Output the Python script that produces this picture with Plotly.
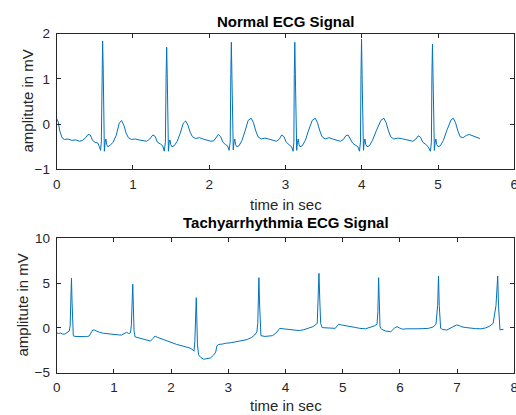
import plotly.graph_objects as go

# ---------------- data ----------------
normal_t = [0.00, 0.02, 0.04, 0.07, 0.10, 0.15, 0.20, 0.25, 0.30, 0.34, 0.38, 0.41, 0.44, 0.47, 0.50, 0.54,
            0.56, 0.575, 0.585, 0.595, 0.602, 0.610, 0.618, 0.625, 0.635, 0.645, 0.655, 0.67, 0.70, 0.74,
            0.78, 0.82, 0.85, 0.88, 0.91, 0.94, 0.98, 1.03, 1.08, 1.13, 1.18, 1.22, 1.26, 1.29, 1.32, 1.36,
            1.39, 1.41, 1.425, 1.435, 1.442, 1.450, 1.458, 1.465, 1.475, 1.485, 1.495, 1.51, 1.54, 1.58,
            1.62, 1.66, 1.69, 1.72, 1.75, 1.78, 1.82, 1.87, 1.92, 1.97, 2.02, 2.06, 2.09, 2.12, 2.15, 2.18,
            2.21, 2.24, 2.26, 2.275, 2.283, 2.290, 2.298, 2.306, 2.315, 2.325, 2.335, 2.345, 2.36, 2.39,
            2.43, 2.47, 2.51, 2.55, 2.58, 2.61, 2.64, 2.68, 2.73, 2.78, 2.83, 2.88, 2.92, 2.95, 2.98, 3.01,
            3.05, 3.08, 3.10, 3.11, 3.115, 3.122, 3.130, 3.138, 3.147, 3.157, 3.167, 3.177, 3.19, 3.22,
            3.26, 3.30, 3.35, 3.39, 3.42, 3.45, 3.48, 3.52, 3.57, 3.62, 3.67, 3.72, 3.76, 3.79, 3.82, 3.85,
            3.88, 3.92, 3.95, 3.97, 3.983, 3.990, 3.997, 4.005, 4.013, 4.022, 4.032, 4.042, 4.052, 4.07,
            4.10, 4.14, 4.19, 4.25, 4.29, 4.32, 4.35, 4.38, 4.42, 4.47, 4.52, 4.57, 4.62, 4.67, 4.71, 4.74,
            4.77, 4.80, 4.84, 4.87, 4.90, 4.913, 4.920, 4.927, 4.935, 4.943, 4.952, 4.962, 4.972, 4.982,
            5.00, 5.03, 5.07, 5.12, 5.17, 5.20, 5.23, 5.26, 5.29, 5.33, 5.37, 5.41, 5.45, 5.50, 5.55]
normal_mv = [0.12, 0.05, -0.15, -0.30, -0.34, -0.33, -0.36, -0.35, -0.38, -0.36, -0.30, -0.23, -0.24, -0.36,
             -0.40, -0.42, -0.50, -0.58, -0.40, 1.20, 1.84, 1.20, -0.30, -0.60, -0.40, -0.33, -0.45, -0.50,
             -0.47, -0.40, -0.25, 0.02, 0.08, -0.02, -0.20, -0.30, -0.34, -0.33, -0.35, -0.36, -0.38, -0.33,
             -0.24, -0.27, -0.40, -0.44, -0.48, -0.60, -0.40, 1.10, 1.70, 1.00, -0.30, -0.60, -0.40, -0.35,
             -0.45, -0.50, -0.48, -0.38, -0.20, 0.02, 0.07, -0.02, -0.18, -0.28, -0.32, -0.30, -0.33, -0.36,
             -0.38, -0.37, -0.30, -0.23, -0.28, -0.40, -0.45, -0.48, -0.58, -0.40, 1.10, 1.81, 1.00, -0.30,
             -0.57, -0.40, -0.33, -0.45, -0.50, -0.48, -0.36, -0.15, 0.08, 0.13, 0.03, -0.15, -0.28, -0.33,
             -0.31, -0.33, -0.36, -0.38, -0.33, -0.24, -0.28, -0.40, -0.46, -0.50, -0.60, -0.40, 1.10, 1.81,
             1.00, -0.30, -0.58, -0.40, -0.33, -0.45, -0.50, -0.48, -0.36, -0.15, 0.08, 0.13, 0.03, -0.15,
             -0.28, -0.33, -0.30, -0.33, -0.36, -0.38, -0.34, -0.26, -0.24, -0.32, -0.42, -0.47, -0.50, -0.60,
             -0.40, 1.10, 1.88, 1.00, -0.30, -0.58, -0.40, -0.33, -0.45, -0.50, -0.48, -0.36, -0.15, 0.08,
             0.13, 0.03, -0.15, -0.28, -0.33, -0.31, -0.32, -0.34, -0.36, -0.38, -0.33, -0.26, -0.29, -0.40,
             -0.45, -0.50, -0.60, -0.40, 1.10, 1.77, 1.00, -0.30, -0.58, -0.40, -0.33, -0.45, -0.50, -0.48,
             -0.36, -0.12, 0.09, 0.13, 0.03, -0.15, -0.28, -0.30, -0.25, -0.23, -0.26, -0.30, -0.32]

tachy_t = [0.00, 0.03, 0.07, 0.10, 0.14, 0.17, 0.20, 0.22, 0.235, 0.245, 0.258, 0.268, 0.278, 0.29, 0.32,
           0.38, 0.45, 0.52, 0.57, 0.60, 0.63, 0.66, 0.70, 0.75, 0.82, 0.90, 1.00, 1.08, 1.13, 1.18, 1.22,
           1.26, 1.29, 1.305, 1.318, 1.330, 1.340, 1.352, 1.37, 1.42, 1.49, 1.56, 1.64, 1.68, 1.72, 1.76,
           1.84, 1.93, 2.02, 2.10, 2.19, 2.27, 2.33, 2.38, 2.40, 2.415, 2.428, 2.440, 2.450, 2.46, 2.48,
           2.52, 2.57, 2.62, 2.69, 2.74, 2.78, 2.80, 2.83, 2.90, 2.95, 3.05, 3.15, 3.24, 3.33, 3.41, 3.46,
           3.50, 3.515, 3.525, 3.535, 3.545, 3.555, 3.57, 3.64, 3.71, 3.77, 3.83, 3.87, 3.90, 3.96, 4.06,
           4.15, 4.24, 4.32, 4.40, 4.48, 4.555, 4.570, 4.585, 4.600, 4.615, 4.64, 4.70, 4.78, 4.87, 4.90,
           4.93, 5.00, 5.11, 5.22, 5.30, 5.40, 5.46, 5.55, 5.60, 5.615, 5.628, 5.640, 5.652, 5.667, 5.68,
           5.75, 5.84, 5.90, 5.95, 5.99, 6.05, 6.11, 6.20, 6.30, 6.40, 6.50, 6.58, 6.63, 6.66, 6.675, 6.688,
           6.700, 6.712, 6.727, 6.75, 6.82, 6.92, 6.99, 7.04, 7.07, 7.14, 7.22, 7.32, 7.42, 7.50, 7.57,
           7.63, 7.68, 7.71, 7.724, 7.737, 7.750, 7.762, 7.777, 7.81, 7.88, 7.96, 8.00]
tachy_mv = [-0.55, -0.62, -0.58, -0.68, -0.70, -0.55, -0.40, -0.35, 0.20, 2.80, 5.54, 3.00, 0.00, -0.87,
            -0.95, -0.98, -0.95, -0.98, -0.90, -0.50, -0.23, -0.25, -0.38, -0.50, -0.60, -0.68, -0.75,
            -0.78, -0.80, -0.65, -0.50, -0.62, -0.55, 0.30, 2.80, 4.87, 2.50, -0.30, -1.00, -1.08, -1.17,
            -1.30, -1.47, -1.20, -0.91, -1.05, -1.25, -1.45, -1.62, -1.85, -2.00, -2.15, -2.25, -2.45,
            -2.60, -1.50, 1.00, 3.37, 1.00, -1.80, -3.00, -3.30, -3.50, -3.42, -3.35, -3.05, -2.70, -2.00,
            -1.85, -1.80, -1.72, -1.65, -1.55, -1.47, -1.30, -1.05, -0.80, -0.45, 0.50, 3.00, 5.60, 3.00,
            0.30, -0.87, -0.95, -0.92, -0.87, -0.60, -0.20, -0.05, -0.10, -0.16, -0.25, -0.30, -0.20, -0.05,
            0.14, 0.50, 3.00, 6.09, 3.00, 0.50, 0.03, 0.00, -0.05, -0.05, 0.20, 0.40, 0.30, 0.14, 0.05,
            -0.05, -0.10, 0.03, 0.21, 0.40, 1.80, 5.60, 1.80, 0.20, -0.05, -0.15, -0.35, -0.43, -0.05,
            0.14, 0.00, -0.15, -0.10, -0.12, -0.10, -0.08, -0.05, 0.10, 0.40, 2.50, 5.80, 2.50, 0.30, -0.05,
            -0.10, -0.18, -0.24, 0.10, 0.33, 0.25, 0.14, 0.05, -0.03, -0.08, -0.10, 0.00, 0.20, 0.50, 2.50,
            5.80, 2.50, 0.20, -0.24, -0.20, -0.18, -0.16]

top_xticks = [0, 1, 2, 3, 4, 5, 6]
top_yticks = [-1, 0, 1, 2]
bot_xticks = [0, 1, 2, 3, 4, 5, 6, 7, 8]
bot_yticks = [-5, 0, 5, 10]

titles = ["Normal ECG Signal", "Tachyarrhythmia ECG Signal"]
xlabel = "time in sec"
ylabel = "amplitute in mV"

# ---------------- figure ----------------
W, H = 516, 415
LINE = "#0072BD"
AX = "#262626"
FONT = "Liberation Sans, Arial, Helvetica, sans-serif"

fig = go.Figure()
fig.add_trace(go.Scatter(x=normal_t, y=normal_mv, mode="lines",
                         line=dict(color=LINE, width=1), xaxis="x", yaxis="y", showlegend=False))
fig.add_trace(go.Scatter(x=tachy_t, y=tachy_mv, mode="lines",
                         line=dict(color=LINE, width=1), xaxis="x2", yaxis="y2", showlegend=False))

def px_x(p):
    return p / W

def px_y(p):
    return 1 - p / H

axis_common = dict(showline=True, linecolor=AX, linewidth=1, mirror="ticks", ticks="inside",
                   ticklen=4, tickcolor=AX, tickwidth=1, showgrid=False, zeroline=False,
                   automargin=False, ticklabeloverflow="allow",
                   tickfont=dict(family=FONT, size=13.5, color=AX), fixedrange=True)

top_dom_x = [px_x(56.7), px_x(514.3)]
top_dom_y = [px_y(169.3), px_y(33.7)]
bot_dom_y = [px_y(372.7), px_y(238.3)]

fig.update_layout(
    width=W, height=H, margin=dict(l=0, r=0, t=0, b=0, pad=0),
    paper_bgcolor="white", plot_bgcolor="white",
    font=dict(family=FONT, color=AX),
    xaxis=dict(domain=top_dom_x, range=[0, 6], tickvals=top_xticks, anchor="y",
               ticklabelstandoff=2, **axis_common),
    yaxis=dict(domain=top_dom_y, range=[-1, 2], tickvals=top_yticks, anchor="x",
               ticklabelstandoff=3, **axis_common),
    xaxis2=dict(domain=top_dom_x, range=[0, 8], tickvals=bot_xticks, anchor="y2",
                ticklabelstandoff=2, **axis_common),
    yaxis2=dict(domain=bot_dom_y, range=[-5, 10], tickvals=bot_yticks, anchor="x2",
                ticklabelstandoff=3, **axis_common),
)

cx = (56.7 + 514.3) / 2
common_ann = dict(xref="paper", yref="paper", showarrow=False, xanchor="center", yanchor="middle")
ann = []
ann.append(dict(text="<b>%s</b>" % titles[0], x=px_x(cx), y=px_y(21.5),
                font=dict(family=FONT, size=15, color="black"), **common_ann))
ann.append(dict(text="<b>%s</b>" % titles[1], x=px_x(cx), y=px_y(222),
                font=dict(family=FONT, size=15, color="black"), **common_ann))
ann.append(dict(text=xlabel, x=px_x(cx), y=px_y(204),
                font=dict(family=FONT, size=15, color=AX), **common_ann))
ann.append(dict(text=xlabel, x=px_x(cx), y=px_y(405),
                font=dict(family=FONT, size=15, color=AX), **common_ann))
ann.append(dict(text=ylabel, x=px_x(27), y=px_y((33.7 + 169.3) / 2), textangle=-90,
                font=dict(family=FONT, size=15, color=AX), **common_ann))
ann.append(dict(text=ylabel, x=px_x(22), y=px_y((238.3 + 372.7) / 2), textangle=-90,
                font=dict(family=FONT, size=15, color=AX), **common_ann))
fig.update_layout(annotations=ann)

fig.write_html("out.html", config={"displayModeBar": False},
               post_script="document.body.style.margin='0';document.body.style.overflow='hidden';"
                           "document.documentElement.style.overflow='hidden';")
